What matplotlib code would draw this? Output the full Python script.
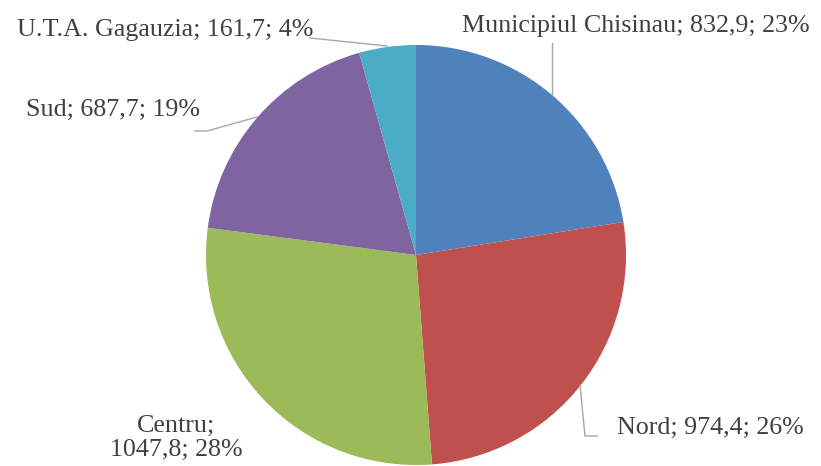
import numpy as np
import matplotlib.pyplot as plt

regions = ['Municipiul Chisinau', 'Nord', 'Centru', 'Sud', 'U.T.A. Gagauzia']
values = [832.9, 974.4, 1047.8, 687.7, 161.7]
value_labels = ['832,9', '974,4', '1047,8', '687,7', '161,7']
pct = [23, 26, 28, 19, 4]
colors = ['#4F81BD', '#C0504D', '#9BBB59', '#8064A2', '#4BACC6']

W, H = 821, 466
cx, cy, R = 416, 255, 210

def px(x, y):
    # pixel position -> data coords of the pie axes
    return (x - cx) / R, (cy - y) / R

fig = plt.figure(figsize=(W / 100, H / 100), dpi=100)
ax = fig.add_axes([(cx - R) / W, (H - cy - R) / H, 2 * R / W, 2 * R / H])
ax.pie(values, colors=colors, startangle=90, counterclock=False, radius=1,
       wedgeprops=dict(linewidth=0))
ax.set_xlim(-1, 1)
ax.set_ylim(-1, 1)
ax.set_aspect('equal')
ax.axis('off')

labels = ['%s; %s; %d%%' % (r, v, p) for r, v, p in zip(regions, value_labels, pct)]
labels[2] = '%s;\n%s; %d%%' % (regions[2], value_labels[2], pct[2])

font = dict(family='Liberation Serif', size=18.7, color='#404040')
txt = [
    (px(810, 26), 'right', 'center'),
    (px(617, 428), 'left', 'center'),
    (px(176, 438), 'center', 'center'),
    (px(200, 110), 'right', 'center'),
    (px(313, 30), 'right', 'center'),
]
for lab, (pos, ha, va) in zip(labels, txt):
    ax.text(pos[0], pos[1], lab, ha=ha, va=va, clip_on=False,
            linespacing=1.1, **font)

# leader lines
lines = [
    [px(552, 95), px(552, 43)],
    [px(580, 385), px(585, 436), px(597, 436)],
    [px(257, 117), px(207, 131), px(195, 131)],
    [px(387, 46), px(310, 38)],
]
for pts in lines:
    xs, ys = zip(*pts)
    ax.plot(xs, ys, color='#A6A6A6', lw=1, clip_on=False)

fig.savefig('out.png', dpi=100)
